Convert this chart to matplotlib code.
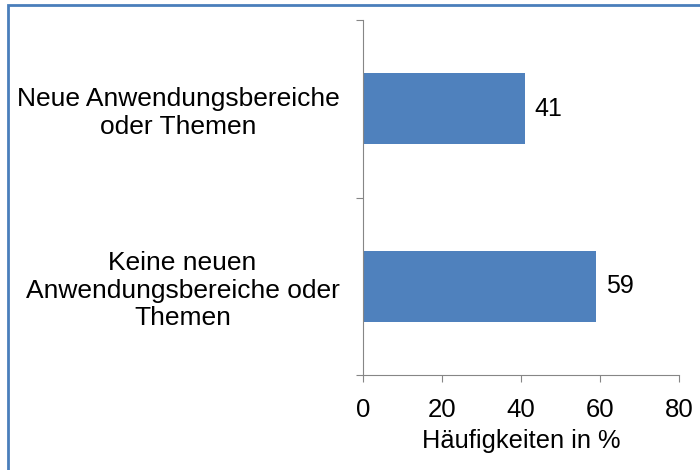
import matplotlib
matplotlib.use("Agg")
import matplotlib.pyplot as plt
from matplotlib.patches import Rectangle

# ── Data ──────────────────────────────────────────────────────────────────────
categories = ["Neue Anwendungsbereiche\noder Themen",
              "Keine neuen\nAnwendungsbereiche oder\nThemen"]
values = [41, 59]
x_ticks = [0, 20, 40, 60, 80]
x_label = "Häufigkeiten in %"

BAR_COLOR = "#4F81BD"
AXIS_COLOR = "#868686"

plt.rcParams["font.family"] = ["Liberation Sans", "DejaVu Sans"]

fig = plt.figure(figsize=(7, 4.7), dpi=100)
ax = fig.add_axes([363 / 700, 1 - 375 / 470, 316 / 700, 355 / 470])

ypos = list(range(len(categories)))
ax.barh(ypos, values, height=0.4, color=BAR_COLOR, zorder=2)
for y, v in zip(ypos, values):
    ax.annotate(f"{v}", (v, y), xytext=(7, 0), textcoords="offset points",
                ha="left", va="center", fontsize=18, color="black")

ax.set_xlim(0, 80)
ax.set_ylim(len(categories) - 0.5, -0.5)
ax.set_xticks(x_ticks)
ax.set_xticklabels([str(t) for t in x_ticks])
ax.set_yticks([-0.5 + i for i in range(len(categories) + 1)])
ax.set_yticklabels([])
ax.set_yticks(ypos, minor=True)
ax.set_yticklabels(categories, minor=True)
for t in ax.get_yticklabels(minor=True):
    t.set_multialignment("center")

ax.tick_params(axis="x", which="major", length=5, width=0.8, color=AXIS_COLOR,
               labelsize=18.5, pad=11.5)
ax.tick_params(axis="y", which="major", length=5, width=0.8, color=AXIS_COLOR)
ax.tick_params(axis="y", which="minor", length=0, labelsize=19, pad=17)

for s in ["top", "right"]:
    ax.spines[s].set_visible(False)
for s in ["left", "bottom"]:
    ax.spines[s].set_color(AXIS_COLOR)
    ax.spines[s].set_linewidth(0.8)

ax.set_xlabel(x_label, fontsize=18.3, labelpad=5)

# outer frame (only left and top edges visible in the image)
fig.patches.append(Rectangle((8 / 700, -0.05), 1.2, 1 - 5 / 470 + 0.05,
                             transform=fig.transFigure, fill=False,
                             edgecolor="#4A7EBB", linewidth=2, zorder=10))

fig.savefig("out.png", dpi=100)
